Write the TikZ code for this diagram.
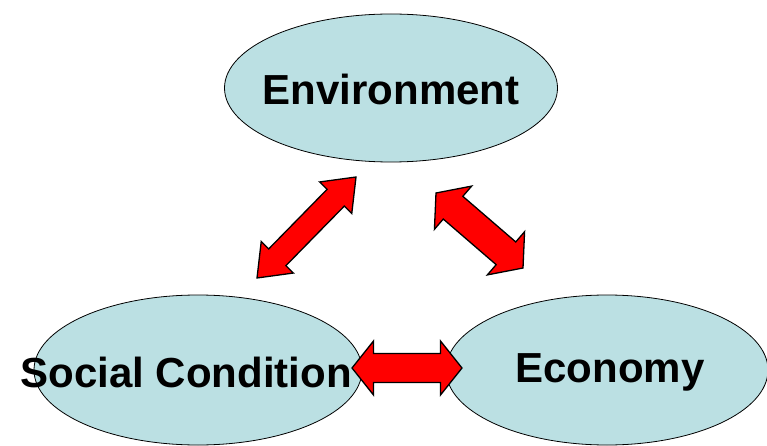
\documentclass[tikz,border=0pt]{standalone}
\usepackage{fontspec}
\setmainfont{Liberation Sans}
\usetikzlibrary{shapes.geometric,calc}
\definecolor{ellfill}{HTML}{BBE0E3}
\definecolor{arrred}{HTML}{FF0000}
\newcommand{\blockarrow}[5]{% from, to, head length, head half width, shaft half width
  \path
    coordinate (ba1) at ($(#1)!#3!(#2)$)
    coordinate (ba2) at ($(#2)!#3!(#1)$);
  \draw[arrowstyle] (#1)
    -- ($(ba1)!#4!90:(#2)$) -- ($(ba1)!#5!90:(#2)$)
    -- ($(ba2)!#5!-90:(#1)$) -- ($(ba2)!#4!-90:(#1)$)
    -- (#2)
    -- ($(ba2)!#4!90:(#1)$) -- ($(ba2)!#5!90:(#1)$)
    -- ($(ba1)!#5!-90:(#2)$) -- ($(ba1)!#4!-90:(#2)$)
    -- cycle;
}
\tikzset{
  oval/.style={ellipse, draw=black, line width=0.8pt, fill=ellfill, inner sep=0pt},
  lbl/.style={font=\fontsize{42}{48}\selectfont\bfseries, inner sep=0pt},
  arrowstyle/.style={fill=arrred, draw=black, line width=1.3pt, line join=miter},
}
\begin{document}
\begin{tikzpicture}[x=1pt,y=-1pt]
\useasboundingbox (0,0) rectangle (767,446);
\node[oval, minimum width=333pt, minimum height=148pt] (env) at (391,88) {};
\node[oval, minimum width=328pt, minimum height=150pt] (soc) at (198,370) {};
\node[oval, minimum width=322pt, minimum height=150pt] (eco) at (607,370) {};

\coordinate (l1) at (356,177);
\coordinate (l2) at (257,278);
\coordinate (r1) at (436,193);
\coordinate (r2) at (523,268);
\coordinate (h1) at (352,368);
\coordinate (h2) at (462,368);

\blockarrow{l1}{l2}{29pt}{22.5pt}{12pt}
\blockarrow{r1}{r2}{22.5pt}{28.5pt}{15pt}
\blockarrow{h1}{h2}{21.5pt}{27pt}{14.5pt}

\node[lbl] (envt) at (391,89) {Environment};
\node[lbl] (soct) at (186,372) {Social Condition};
\node[lbl] (ecot) at (610,372) {Economy};
\end{tikzpicture}
\end{document}
